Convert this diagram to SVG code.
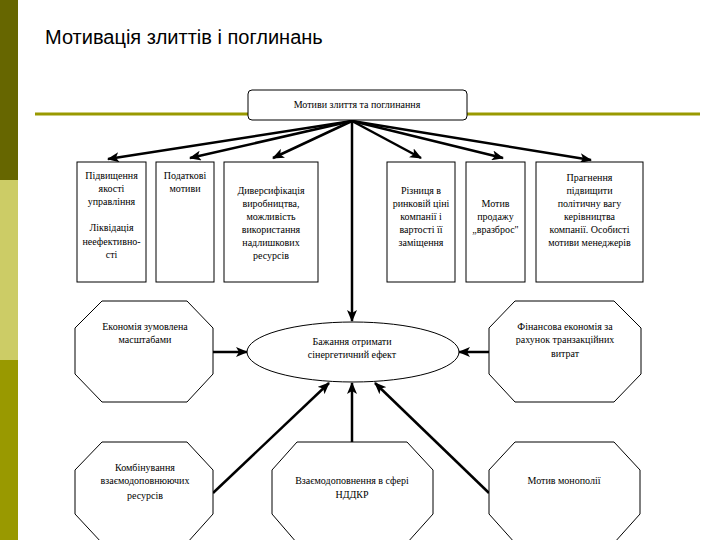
<svg xmlns="http://www.w3.org/2000/svg" width="720" height="540" viewBox="0 0 720 540">
<style>
.t{font-family:'Liberation Serif','Times New Roman',serif;font-size:10px;fill:#000;text-anchor:middle}
.title{font-family:'Liberation Sans',Arial,sans-serif;font-size:20px;fill:#000}
.box{fill:#fff;stroke:#000;stroke-width:1}
.con{stroke:#000;stroke-width:2.5;fill:none;marker-end:url(#ah)}
</style>
<defs>
<marker id="ah" markerUnits="userSpaceOnUse" markerWidth="12" markerHeight="10" refX="11" refY="5" orient="auto">
<path d="M0,0 L12,5 L0,10 L3,5 Z" fill="#000"/>
</marker>
</defs>
<rect width="720" height="540" fill="#fff"/>
<g id="sidebar">
<rect x="0" y="0" width="18" height="180" fill="#666600"/>
<rect x="0" y="180" width="18" height="180" fill="#CCCC66"/>
<rect x="0" y="360" width="18" height="180" fill="#999900"/>
</g>
<rect x="35" y="112.5" width="665" height="3" fill="#999900"/>
<text class="title" x="45" y="44">Мотивація злиттів і поглинань</text>

<g id="connectors">
<line class="con" x1="352" y1="121" x2="108" y2="159"/>
<line class="con" x1="352" y1="121" x2="190" y2="158"/>
<line class="con" x1="352" y1="121" x2="273" y2="158"/>
<line class="con" x1="352" y1="121" x2="421" y2="158"/>
<line class="con" x1="352" y1="121" x2="503" y2="158"/>
<line class="con" x1="352" y1="121" x2="591" y2="160"/>
<line class="con" x1="352" y1="121" x2="352" y2="321"/>
<line class="con" x1="213" y1="352" x2="247" y2="352"/>
<line class="con" x1="489" y1="352" x2="459" y2="352"/>
<line class="con" x1="213" y1="493" x2="329" y2="383"/>
<line class="con" x1="352" y1="442" x2="352" y2="383"/>
<line class="con" x1="489" y1="493" x2="375" y2="383"/>
</g>

<g id="root">
<rect class="box" x="248" y="90" width="219" height="30" rx="4"/>
<text class="t" x="357" y="108">Мотиви злиття та поглинання</text>
</g>

<g id="b1">
<rect class="box" x="77" y="162" width="69" height="120"/>
<text class="t" x="111.5" y="179">Підвищення</text>
<text class="t" x="111.5" y="192">якості</text>
<text class="t" x="111.5" y="205">управління</text>
<text class="t" x="111.5" y="231">Ліквідація</text>
<text class="t" x="111.5" y="245">неефективно-</text>
<text class="t" x="111.5" y="258">сті</text>
</g>
<g id="b2">
<rect class="box" x="156" y="162" width="58" height="120"/>
<text class="t" x="185" y="179">Податкові</text>
<text class="t" x="185" y="192">мотиви</text>
</g>
<g id="b3">
<rect class="box" x="224" y="162" width="94" height="120"/>
<text class="t" x="271" y="194">Диверсифікація</text>
<text class="t" x="271" y="207">виробництва,</text>
<text class="t" x="271" y="220">можливість</text>
<text class="t" x="271" y="233">використання</text>
<text class="t" x="271" y="246">надлишкових</text>
<text class="t" x="271" y="259">ресурсів</text>
</g>
<g id="b4">
<rect class="box" x="387" y="162" width="68" height="120"/>
<text class="t" x="421" y="194">Різниця в</text>
<text class="t" x="421" y="207">ринковій ціні</text>
<text class="t" x="421" y="220">компанії і</text>
<text class="t" x="421" y="233">вартості її</text>
<text class="t" x="421" y="246">заміщення</text>
</g>
<g id="b5">
<rect class="box" x="466" y="162" width="59" height="120"/>
<text class="t" x="495.5" y="207">Мотив</text>
<text class="t" x="495.5" y="220">продажу</text>
<text class="t" x="495.5" y="233">„вразброс"</text>
</g>
<g id="b6">
<rect class="box" x="536" y="162" width="107" height="120"/>
<text class="t" x="589.5" y="181">Прагнення</text>
<text class="t" x="589.5" y="194">підвищити</text>
<text class="t" x="589.5" y="207">політичну вагу</text>
<text class="t" x="589.5" y="220">керівництва</text>
<text class="t" x="589.5" y="233">компанії. Особисті</text>
<text class="t" x="589.5" y="246">мотиви менеджерів</text>
</g>

<g id="center">
<ellipse class="box" cx="353" cy="352" rx="106" ry="30"/>
<text class="t" x="352" y="345">Бажання отримати</text>
<text class="t" x="352" y="358">сінергетичний ефект</text>
</g>

<g id="o1">
<polygon class="box" points="102,301 187,301 213,328 213,374 187,402 102,402 75,374 75,328"/>
<text class="t" x="145" y="330">Економія зумовлена</text>
<text class="t" x="145" y="343">масштабами</text>
</g>
<g id="o2">
<polygon class="box" points="515,301 614,301 641,328 641,374 614,402 515,402 489,374 489,328"/>
<text class="t" x="565" y="330">Фінансова економія за</text>
<text class="t" x="565" y="343">рахунок транзакційних</text>
<text class="t" x="565" y="357">витрат</text>
</g>
<g id="o3">
<polygon class="box" points="102,442 187,442 213,470 213,514 187,543 102,543 75,514 75,470"/>
<text class="t" x="145" y="471">Комбінування</text>
<text class="t" x="145" y="484">взаємодоповнюючих</text>
<text class="t" x="145" y="499">ресурсів</text>
</g>
<g id="o4">
<polygon class="box" points="297,442 407,442 433,470 433,514 407,543 297,543 272,514 272,470"/>
<text class="t" x="352" y="484">Взаємодоповнення в сфері</text>
<text class="t" x="352" y="498">НДДКР</text>
</g>
<g id="o5">
<polygon class="box" points="515,442 614,442 640,470 640,514 614,543 515,543 489,514 489,470"/>
<text class="t" x="564" y="484">Мотив монополії</text>
</g>
</svg>
